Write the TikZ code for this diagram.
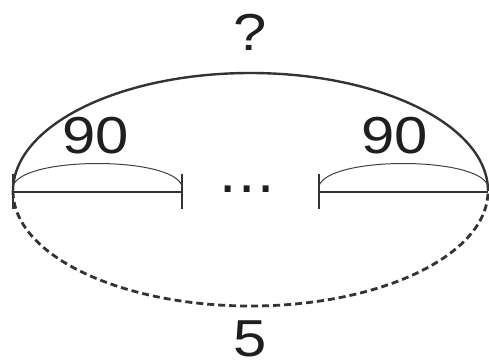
\documentclass[tikz,border=0pt]{standalone}
\usepackage{fontspec}
\setmainfont{Liberation Sans}
\begin{document}
\begin{tikzpicture}[x=1pt,y=-1pt,
  lbl/.style={inner sep=0pt,anchor=base,text=black!88,font=\fontsize{52}{60}\selectfont,xscale=1.15},
  seg/.style={line width=2.2pt,draw=black!80},
  brc/.style={line width=1pt,draw=black!75},
  big/.style={line width=2.4pt,draw=black!80}]
\useasboundingbox (0,0) rectangle (489,360);
% big ellipse
\draw[big] (13,191) arc[start angle=180,end angle=360,x radius=237.5,y radius=118];
\draw[big,line width=2.8pt,dash pattern=on 7pt off 4pt] (13,191) arc[start angle=180,end angle=0,x radius=237.5,y radius=115];
% coordinates
\coordinate (l1) at (13,192);
\coordinate (l2) at (182,192);
\coordinate (r1) at (319,192);
\coordinate (r2) at (488,192);
% segments
\draw[seg] (l1) -- (l2);
\draw[seg] (r1) -- (r2);
\draw[seg] ([yshift=-17pt]l1) -- ([yshift=18pt]l1);
\draw[seg] ([yshift=-17pt]l2) -- ([yshift=18pt]l2);
\draw[seg] ([yshift=-17pt]r1) -- ([yshift=18pt]r1);
% small arcs
\draw[brc] (13,186) .. controls (22,156) and (173,156) .. (182,186);
\draw[brc] (319,186) .. controls (328,156) and (479,156) .. (488,186);
% labels
\node[lbl] (q) at (250,50) {?};
\node[lbl] (f) at (250,356) {5};
\node[lbl] (a) at (96,153) {90};
\node[lbl] (b) at (395,153) {90};
\node[inner sep=0pt,anchor=base,text=black!88,font=\fontsize{62}{70}\selectfont] (d) at (247,192) {.\hspace{2pt}.\hspace{2pt}.};
\end{tikzpicture}
\end{document}
